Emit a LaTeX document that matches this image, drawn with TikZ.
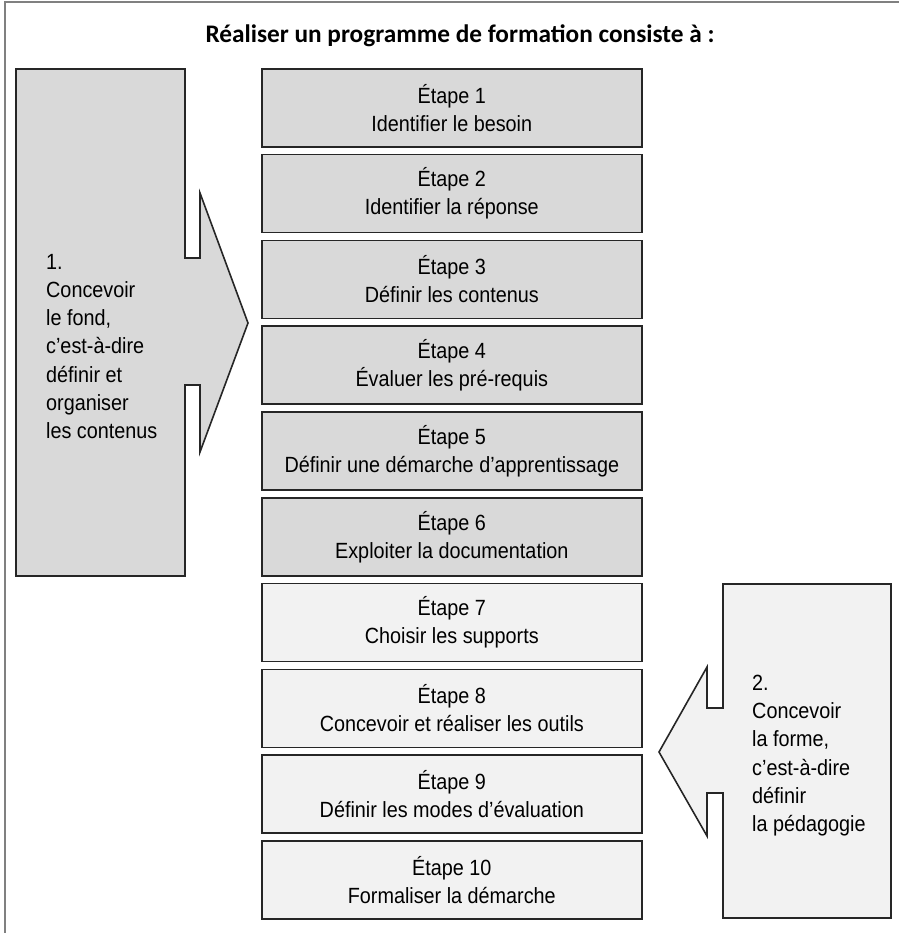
\documentclass[tikz,border=0pt]{standalone}
\usepackage{fontspec}
\setmainfont[FakeStretch=0.9]{Liberation Sans}
\newfontfamily\titlefont{Carlito}
\usetikzlibrary{positioning,calc}
\definecolor{fonce}{gray}{0.85}
\definecolor{clair}{gray}{0.95}
\tikzset{
  etape/.style={draw=black!85,line width=1.6pt,minimum width=380pt,minimum height=78pt,
    align=center,inner sep=0pt,anchor=north west,font=\fontsize{22}{28}\selectfont},
  fleche/.style={draw=black!85,line width=1.6pt,line join=miter},
  legende/.style={align=left,anchor=north west,inner sep=0pt,font=\fontsize{22}{28.2}\selectfont},
}

\begin{document}
\begin{tikzpicture}[x=1pt,y=-1pt]
  \useasboundingbox (0,0) rectangle (899,933);
  \draw[gray,line width=1.5pt] (5,933)--(5,2)--(899,2);
  \node[font=\titlefont\bfseries\fontsize{25.3}{30}\selectfont,anchor=base] (titre) at (460,43)
    {Réaliser un programme de formation consiste à :};
  % fleche de gauche : le fond
  \draw[fleche,fill=fonce] (16,69)--(185,69)--(185,258)--(200,258)--(200,193)--(248,323)
    --(200,452)--(200,385)--(185,385)--(185,576)--(16,576)--cycle;
  \node[legende] (fond) at (46,254)
    {1.\\Concevoir\\le fond,\\c’est-à-dire\\définir et\\organiser\\les contenus};
  % fleche de droite : la forme
  \draw[fleche,fill=clair] (723,584)--(891,584)--(891,918)--(723,918)--(723,793)--(707,793)
    --(707,836)--(659,752)--(707,667)--(707,708)--(723,708)--cycle;
  \node[legende] (forme) at (752,675)
    {2.\\Concevoir\\la forme,\\c’est-à-dire\\définir\\la pédagogie};
  % les etapes
  \foreach \i/\txt in {1/Identifier le besoin,2/Identifier la réponse,3/Définir les contenus,
      4/Évaluer les pré-requis,5/Définir une démarche d’apprentissage,6/Exploiter la documentation}
    \node[etape,fill=fonce] (etape\i) at (261,{68+85.8*(\i-1)}) {Étape \i\\\txt};
  \foreach \i/\txt in {7/Choisir les supports,8/Concevoir et réaliser les outils,
      9/Définir les modes d’évaluation,10/Formaliser la démarche}
    \node[etape,fill=clair] (etape\i) at (261,{68+85.8*(\i-1)}) {Étape \i\\\txt};
\end{tikzpicture}
\end{document}
